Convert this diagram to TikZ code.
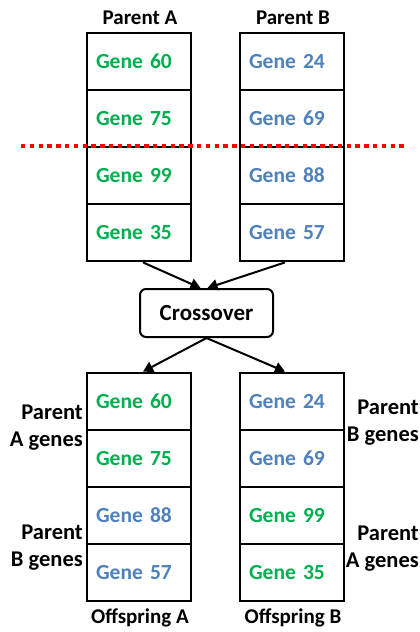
\documentclass[tikz,border=0pt]{standalone}
\usepackage{fontspec}
\setmainfont{Carlito}
\usetikzlibrary{arrows.meta}
\definecolor{geneA}{HTML}{00B050}
\definecolor{geneB}{HTML}{4F81BD}
\begin{document}
\begin{tikzpicture}[x=1pt,y=-1pt,
  cell/.style={draw=black, line width=2.8pt, rectangle, minimum height=57pt,
    text width=86pt, inner xsep=9pt, align=left, font=\fontsize{21.5}{24}\selectfont\bfseries},
  ga/.style={cell, text=geneA},
  gb/.style={cell, text=geneB},
  title/.style={font=\fontsize{21}{24}\selectfont\bfseries, inner sep=0pt},
  side/.style={font=\fontsize{22.5}{27}\selectfont\bfseries, inner sep=0pt},
  flow/.style={line width=2pt, -{Triangle[length=10pt,width=11pt]}}]
\useasboundingbox (0,0) rectangle (420,632);
\fill[white] (0,0) rectangle (420,632);

% parent chromosomes
\node[title] (tA) at (140,18) {Parent A};
\node[title] (tB) at (293,18) {Parent B};
\node[ga] (a1) at (139,61.5) {Gene 60};
\node[ga] (a2) at (139,118.5) {Gene 75};
\node[ga] (a3) at (139,175.5) {Gene 99};
\node[ga] (a4) at (139,232.5) {Gene 35};
\node[gb] (b1) at (292,61.5) {Gene 24};
\node[gb] (b2) at (292,118.5) {Gene 69};
\node[gb] (b3) at (292,175.5) {Gene 88};
\node[gb] (b4) at (292,232.5) {Gene 57};

% crossover point
\coordinate (cutL) at (21,146);
\coordinate (cutR) at (405,146);
\draw[red, line width=4pt, dash pattern=on 4.4pt off 4.4pt] (cutL) -- (cutR);

% crossover operator
\node[draw, line width=2pt, rounded corners=6pt, minimum width=133pt, minimum height=48pt,
  font=\fontsize{23}{26}\selectfont\bfseries] (cx) at (206.5,313) {Crossover};

% offspring chromosomes
\node[ga] (oa1) at (139,401.5) {Gene 60};
\node[ga] (oa2) at (139,458.5) {Gene 75};
\node[gb] (oa3) at (139,515.5) {Gene 88};
\node[gb] (oa4) at (139,572.5) {Gene 57};
\node[gb] (ob1) at (292,401.5) {Gene 24};
\node[gb] (ob2) at (292,458.5) {Gene 69};
\node[ga] (ob3) at (292,515.5) {Gene 99};
\node[ga] (ob4) at (292,572.5) {Gene 35};
\node[title] (tOA) at (140,618) {Offspring A};
\node[title] (tOB) at (293,618) {Offspring B};

% side annotations
\node[side, anchor=east, align=right] (sA1) at (83,428) {Parent\\A genes};
\node[side, anchor=east, align=right] (sA2) at (83,548) {Parent\\B genes};
\node[side, anchor=east, align=right] (sB1) at (419,423) {Parent\\B genes};
\node[side, anchor=east, align=right] (sB2) at (419,549) {Parent\\A genes};

% flow arrows
\draw[flow] ([xshift=4pt]a4.south) -- ([xshift=-6pt]cx.north);
\draw[flow] ([xshift=-7pt]b4.south) -- ([xshift=1pt]cx.north);
\draw[flow] (cx.south) -- ([xshift=4pt]oa1.north);
\draw[flow] (cx.south) -- ([xshift=-7pt]ob1.north);
\end{tikzpicture}
\end{document}
